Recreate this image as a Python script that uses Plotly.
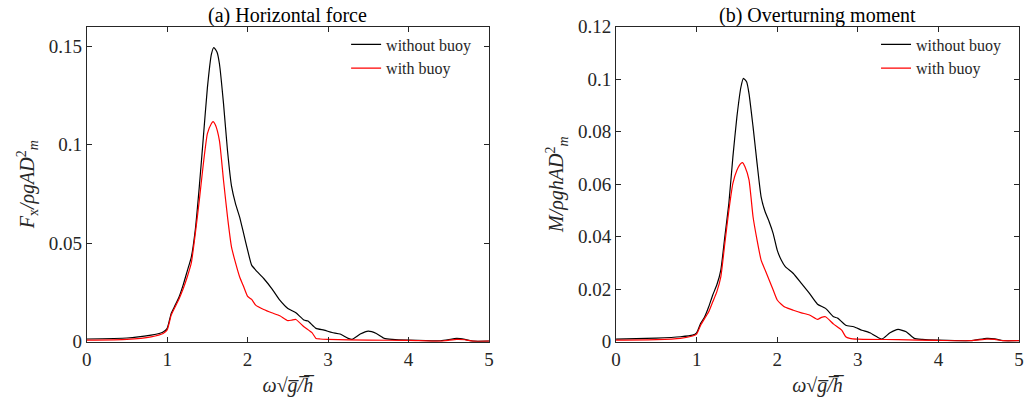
import plotly.graph_objects as go

# ---- data: omega*sqrt(g/h) and normalised loads ----
fx_w = [0, 0.5, 0.8, 0.9, 0.95, 1.0, 1.05, 1.1, 1.15, 1.2, 1.25, 1.3, 1.35, 1.4, 1.45, 1.5,
        1.55, 1.58, 1.62, 1.65, 1.7, 1.75, 1.8, 1.85, 1.9, 1.95, 2.0, 2.05, 2.1, 2.2, 2.3,
        2.4, 2.5, 2.6, 2.7, 2.75, 2.85, 2.95, 3.05, 3.15, 3.25, 3.3, 3.4, 3.5, 3.6, 3.7,
        3.8, 4.0, 4.4, 4.6, 4.7, 4.8, 5.0]
fx_without = [0.0014, 0.0019, 0.0034, 0.0042, 0.005, 0.0068, 0.0144, 0.0186, 0.023, 0.029,
              0.036, 0.043, 0.057, 0.079, 0.104, 0.129, 0.146, 0.1494, 0.147, 0.141, 0.121,
              0.097, 0.079, 0.070, 0.0634, 0.055, 0.0465, 0.0389, 0.0364, 0.0321, 0.027,
              0.0211, 0.0169, 0.0147, 0.011, 0.0105, 0.0068, 0.0059, 0.0047, 0.0039, 0.0017,
              0.0012, 0.0039, 0.0054, 0.0042, 0.0017, 0.0012, 0.0008, 0.0005, 0.0017, 0.0012,
              0.0003, 0.0003]

fx_w_b = [0, 0.5, 0.8, 0.95, 1.0, 1.05, 1.1, 1.15, 1.2, 1.25, 1.3, 1.35, 1.4, 1.45, 1.5, 1.55,
          1.57, 1.6, 1.65, 1.7, 1.75, 1.8, 1.85, 1.9, 1.95, 2.0, 2.05, 2.1, 2.2, 2.3, 2.4, 2.5,
          2.55, 2.6, 2.7, 2.8, 2.85, 2.9, 3.0, 3.5, 4.0, 4.4, 4.6, 4.7, 4.8, 5.0]
fx_with = [0.0008, 0.0012, 0.0025, 0.0042, 0.006, 0.0135, 0.0178, 0.022, 0.027, 0.033, 0.040,
           0.055, 0.072, 0.0905, 0.1057, 0.1108, 0.1118, 0.110, 0.102, 0.082, 0.0634, 0.048,
           0.040, 0.033, 0.028, 0.023, 0.0215, 0.0186, 0.0164, 0.0147, 0.0132, 0.0107, 0.011,
           0.0113, 0.0076, 0.0046, 0.0017, 0.0014, 0.0012, 0.0008, 0.0007, 0.0003, 0.0012,
           0.001, 0.0003, 0.0003]

m_w = [0, 0.5, 0.8, 0.95, 1.0, 1.05, 1.1, 1.15, 1.2, 1.25, 1.3, 1.35, 1.4, 1.45, 1.5, 1.55,
       1.58, 1.62, 1.65, 1.7, 1.75, 1.8, 1.85, 1.9, 1.95, 2.0, 2.05, 2.1, 2.2, 2.3, 2.4, 2.5,
       2.6, 2.7, 2.75, 2.85, 2.95, 3.05, 3.15, 3.25, 3.3, 3.4, 3.5, 3.6, 3.7, 3.8, 4.0, 4.4,
       4.6, 4.7, 4.8, 5.0]
m_without = [0.001, 0.0014, 0.0019, 0.0025, 0.0034, 0.007, 0.0095, 0.0133, 0.0178, 0.0216,
             0.0273, 0.040, 0.0527, 0.0704, 0.0857, 0.097, 0.1003, 0.099, 0.0945, 0.0819,
             0.0679, 0.0552, 0.0495, 0.0457, 0.0412, 0.0349, 0.0311, 0.0286, 0.026, 0.0222,
             0.0184, 0.0143, 0.0127, 0.0095, 0.009, 0.0063, 0.0057, 0.0044, 0.0034, 0.0016,
             0.001, 0.0034, 0.0047, 0.0038, 0.0013, 0.0009, 0.0006, 0.0004, 0.0013, 0.0011,
             0.0004, 0.0004]

m_w_b = [0, 0.5, 0.8, 0.95, 1.0, 1.05, 1.1, 1.15, 1.2, 1.25, 1.3, 1.35, 1.4, 1.45, 1.5, 1.55,
         1.57, 1.6, 1.65, 1.7, 1.75, 1.8, 1.85, 1.9, 1.95, 2.0, 2.05, 2.1, 2.2, 2.3, 2.4, 2.5,
         2.55, 2.6, 2.7, 2.8, 2.85, 2.9, 3.0, 3.5, 4.0, 4.4, 4.6, 4.7, 4.8, 5.0]
m_with = [0.0006, 0.0008, 0.0013, 0.0022, 0.0029, 0.0063, 0.0089, 0.0114, 0.0152, 0.019,
          0.0247, 0.0374, 0.050, 0.0603, 0.0653, 0.0679, 0.0682, 0.0666, 0.0616, 0.0476,
          0.0387, 0.0311, 0.0273, 0.0235, 0.0197, 0.0159, 0.0143, 0.0131, 0.012, 0.011,
          0.0102, 0.0085, 0.0093, 0.0095, 0.0067, 0.0044, 0.0019, 0.0013, 0.001, 0.0008,
          0.0005, 0.0004, 0.001, 0.0009, 0.0004, 0.0004]

x_ticks = [0, 1, 2, 3, 4, 5]
fx_ticks = [0, 0.05, 0.1, 0.15]
m_ticks = [0, 0.02, 0.04, 0.06, 0.08, 0.1, 0.12]
fx_ticktext = ["0", "0.05", "0.1", "0.15"]
m_ticktext = ["0", "0.02", "0.04", "0.06", "0.08", "0.1", "0.12"]
x_ticktext = ["0", "1", "2", "3", "4", "5"]

FONT = "Liberation Serif"
INK = "#262626"
line_kw = dict(shape="spline", smoothing=0.5, width=1.2)

fig = go.Figure()
fig.add_trace(go.Scatter(x=fx_w, y=fx_without, mode="lines", name="without buoy",
                         line=dict(color="black", **line_kw), xaxis="x", yaxis="y", legend="legend"))
fig.add_trace(go.Scatter(x=fx_w_b, y=fx_with, mode="lines", name="with buoy",
                         line=dict(color="#ff0000", **line_kw), xaxis="x", yaxis="y", legend="legend"))
fig.add_trace(go.Scatter(x=m_w, y=m_without, mode="lines", name="without buoy",
                         line=dict(color="black", **line_kw), xaxis="x2", yaxis="y2", legend="legend2"))
fig.add_trace(go.Scatter(x=m_w_b, y=m_with, mode="lines", name="with buoy",
                         line=dict(color="#ff0000", **line_kw), xaxis="x2", yaxis="y2", legend="legend2"))

xlabel = "<i>ω</i>√<i>g̅/̅h̅</i>"
title_font = dict(family=FONT, size=20, color=INK)
tick_font = dict(family=FONT, size=19, color=INK)
legend_font = dict(family=FONT, size=16, color=INK)

axis_style = dict(showline=True, linecolor=INK, linewidth=1, mirror="allticks",
                  ticks="inside", ticklen=5, tickcolor=INK, showgrid=False, zeroline=False,
                  automargin=False, tickmode="array", tickfont=tick_font)

fig.update_layout(
    template="none",
    width=1024, height=403,
    margin=dict(l=0, r=0, t=0, b=0, autoexpand=False),
    paper_bgcolor="white", plot_bgcolor="white",
    font=dict(family=FONT, size=19, color=INK),
    xaxis=dict(domain=[0.0847, 0.4775], range=[0, 5], tickvals=x_ticks, ticktext=x_ticktext,
               anchor="y", title=dict(text=xlabel, font=title_font, standoff=9), **axis_style),
    yaxis=dict(domain=[0.152, 0.934], range=[0, 0.16], tickvals=fx_ticks, ticktext=fx_ticktext,
               anchor="x",
               title=dict(text="<i>F</i><sub>x</sub><i>/ρgAD</i><sup>2</sup><sub><i>m</i></sub>",
                          font=title_font, standoff=8), **axis_style),
    xaxis2=dict(domain=[0.6016, 0.9951], range=[0, 5], tickvals=x_ticks, ticktext=x_ticktext,
                anchor="y2", title=dict(text=xlabel, font=title_font, standoff=9), **axis_style),
    yaxis2=dict(domain=[0.152, 0.934], range=[0, 0.12], tickvals=m_ticks, ticktext=m_ticktext,
                anchor="x2",
                title=dict(text="<i>M/ρghAD</i><sup>2</sup><sub><i>m</i></sub>",
                           font=title_font, standoff=8), **axis_style),
    legend=dict(x=0.338, y=0.932, xanchor="left", yanchor="top", bgcolor="rgba(0,0,0,0)",
                font=legend_font, tracegroupgap=0, itemwidth=30),
    legend2=dict(x=0.8555, y=0.932, xanchor="left", yanchor="top", bgcolor="rgba(0,0,0,0)",
                 font=legend_font, tracegroupgap=0, itemwidth=30),
    annotations=[
        dict(text="(a) Horizontal force", x=0.2811, y=0.962, xref="paper", yref="paper",
             xanchor="center", yanchor="middle", showarrow=False,
             font=dict(family=FONT, size=20, color="black")),
        dict(text="(b) Overturning moment", x=0.7983, y=0.962, xref="paper", yref="paper",
             xanchor="center", yanchor="middle", showarrow=False,
             font=dict(family=FONT, size=20, color="black")),
    ],
    showlegend=True,
)

fig.write_html("out.html")
